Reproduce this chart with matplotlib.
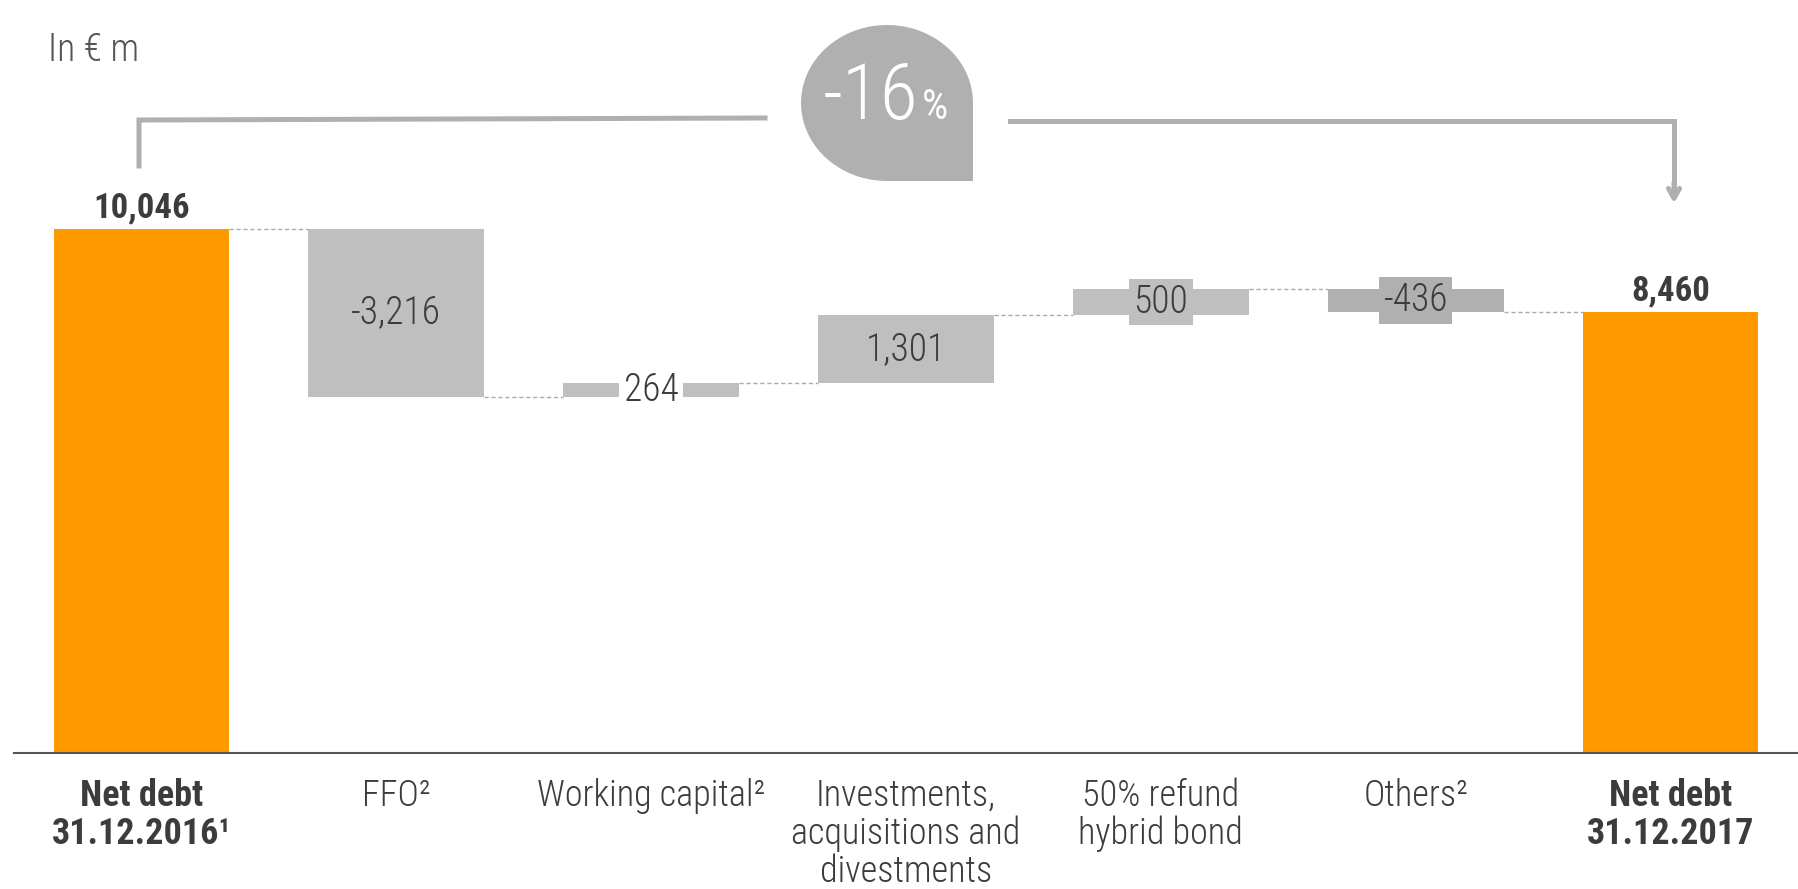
import numpy as np
import matplotlib
matplotlib.use("Agg")
import matplotlib.pyplot as plt
from matplotlib import font_manager
from matplotlib.path import Path
from matplotlib.patches import PathPatch

# ---------------- data ----------------
categories = ["Net debt\n31.12.2016\u00b9", "FFO\u00b2", "Working capital\u00b2",
              "Investments,\nacquisitions and\ndivestments", "50% refund\nhybrid bond",
              "Others\u00b2", "Net debt\n31.12.2017"]
start_value = 10046
changes = [-3216, 264, 1301, 500, -436]
end_value = 8460
change_labels = ["-3,216", "264", "1,301", "500", "-436"]
total_labels = ["10,046", "8,460"]
pct_change = "-16"

# ---------------- fonts ----------------
avail = {f.name for f in font_manager.fontManager.ttflist}
def pick(cands):
    for c in cands:
        if c in avail:
            return c
    return "DejaVu Sans"
FONT = pick(["Roboto Condensed", "Liberation Sans Narrow", "DejaVu Sans Condensed", "Roboto"])
plt.rcParams['font.family'] = [FONT, 'DejaVu Sans']

TXT = "#3c3c3c"
ORANGE = "#ff9900"
GRAY = "#bfbfbf"
DGRAY = "#b0b0b0"
BR = "#b0b0b0"
LW = 'light'

W, H = 1798, 889
fig = plt.figure(figsize=(W / 100, H / 100), dpi=100)
px_per_unit = 0.05216
base_px = 753
ax = fig.add_axes([14 / W, (H - base_px) / H, 1 - 14 / W, base_px / H])
ax.set_xlim(-0.5, 6.5)
ax.set_ylim(0, base_px / px_per_unit)

x = np.arange(len(categories))
bw = 0.69

# cumulative waterfall
bottoms, heights, colors = [], [], []
level = start_value
for i, c in enumerate(changes):
    new = level + c
    bottoms.append(min(level, new))
    heights.append(abs(c))
    colors.append(DGRAY if i == 4 else GRAY)
    level = new

ax.bar(x[0], start_value, width=bw, color=ORANGE, zorder=2)
ax.bar(x[-1], end_value, width=bw, color=ORANGE, zorder=2)
ax.bar(x[1:-1], heights, bottom=bottoms, width=bw, color=colors, zorder=2)

# connectors
levels = [start_value]
lv = start_value
for c in changes:
    lv += c
    levels.append(lv)
for i in range(len(categories) - 1):
    y = levels[i]
    ax.plot([x[i] + bw / 2, x[i + 1] - bw / 2], [y, y], ls=(0, (3, 2)), lw=1,
            color="#aaaaaa", zorder=1)

# labels
ax.text(x[0], start_value + 90, total_labels[0], ha='center', va='bottom',
        fontsize=25, fontweight='bold', color=TXT)
ax.text(x[-1], end_value + 90, total_labels[1], ha='center', va='bottom',
        fontsize=25, fontweight='bold', color=TXT)
bbox_cols = [None, "white", None, GRAY, DGRAY]
for i, (b, h, lab) in enumerate(zip(bottoms, heights, change_labels)):
    kw = {}
    if bbox_cols[i] is not None:
        kw['bbox'] = dict(boxstyle='square,pad=0.12', fc=bbox_cols[i], ec='none')
    ax.text(x[i + 1], b + h / 2, lab, ha='center', va='center', fontsize=27,
            color=TXT, zorder=3, fontweight=LW, **kw)

# axis styling
for s in ['top', 'right', 'left']:
    ax.spines[s].set_visible(False)
ax.spines['bottom'].set_color('#555555')
ax.spines['bottom'].set_linewidth(1.5)
ax.set_yticks([])
ax.set_xticks(x)
ax.set_xticklabels(categories, fontsize=26, color=TXT, linespacing=1.06)
ax.tick_params(axis='x', length=0, pad=18)
for i, t in enumerate(ax.get_xticklabels()):
    t.set_multialignment('center')
    if i in (0, len(categories) - 1):
        t.set_fontweight('bold')
    else:
        t.set_fontweight(LW)

# ---------------- overlay (pixel coords) ----------------
ov = fig.add_axes([0, 0, 1, 1], zorder=5)
ov.set_xlim(0, W)
ov.set_ylim(H, 0)
ov.axis('off')
ov.patch.set_alpha(0)

ov.text(48, 50, "In \u20ac m", ha='left', va='center', fontsize=27, color="#555555",
        fontweight=LW)

# bracket
ov.plot([139, 139, 765], [166, 120, 118], color=BR, lw=3.6, solid_joinstyle='miter')
ov.plot([1010, 1674, 1674], [121, 121, 190], color=BR, lw=3.6, solid_joinstyle='miter')
ov.annotate("", xy=(1674, 206), xytext=(1674, 180),
            arrowprops=dict(arrowstyle='->,head_length=0.7,head_width=0.4', color=BR, lw=3.6))

# bubble
cx, cy, a, b = 887, 103, 86, 78
t = np.linspace(np.pi / 2, 2 * np.pi, 80)
verts = [(cx + a, cy), (cx + a, cy + b), (cx, cy + b)]
verts += list(zip(cx + a * np.cos(t), cy + b * np.sin(t)))
verts.append((cx + a, cy))
codes = [Path.MOVETO] + [Path.LINETO] * (len(verts) - 2) + [Path.CLOSEPOLY]
ov.add_patch(PathPatch(Path(verts, codes), fc=BR, ec='none'))
ov.text(918, 119, pct_change, ha='right', va='baseline', fontsize=56, color='white',
        fontweight=LW)
ov.text(922, 119, "%", ha='left', va='baseline', fontsize=30, color='white')

fig.savefig("out.png", dpi=100, facecolor='white')
